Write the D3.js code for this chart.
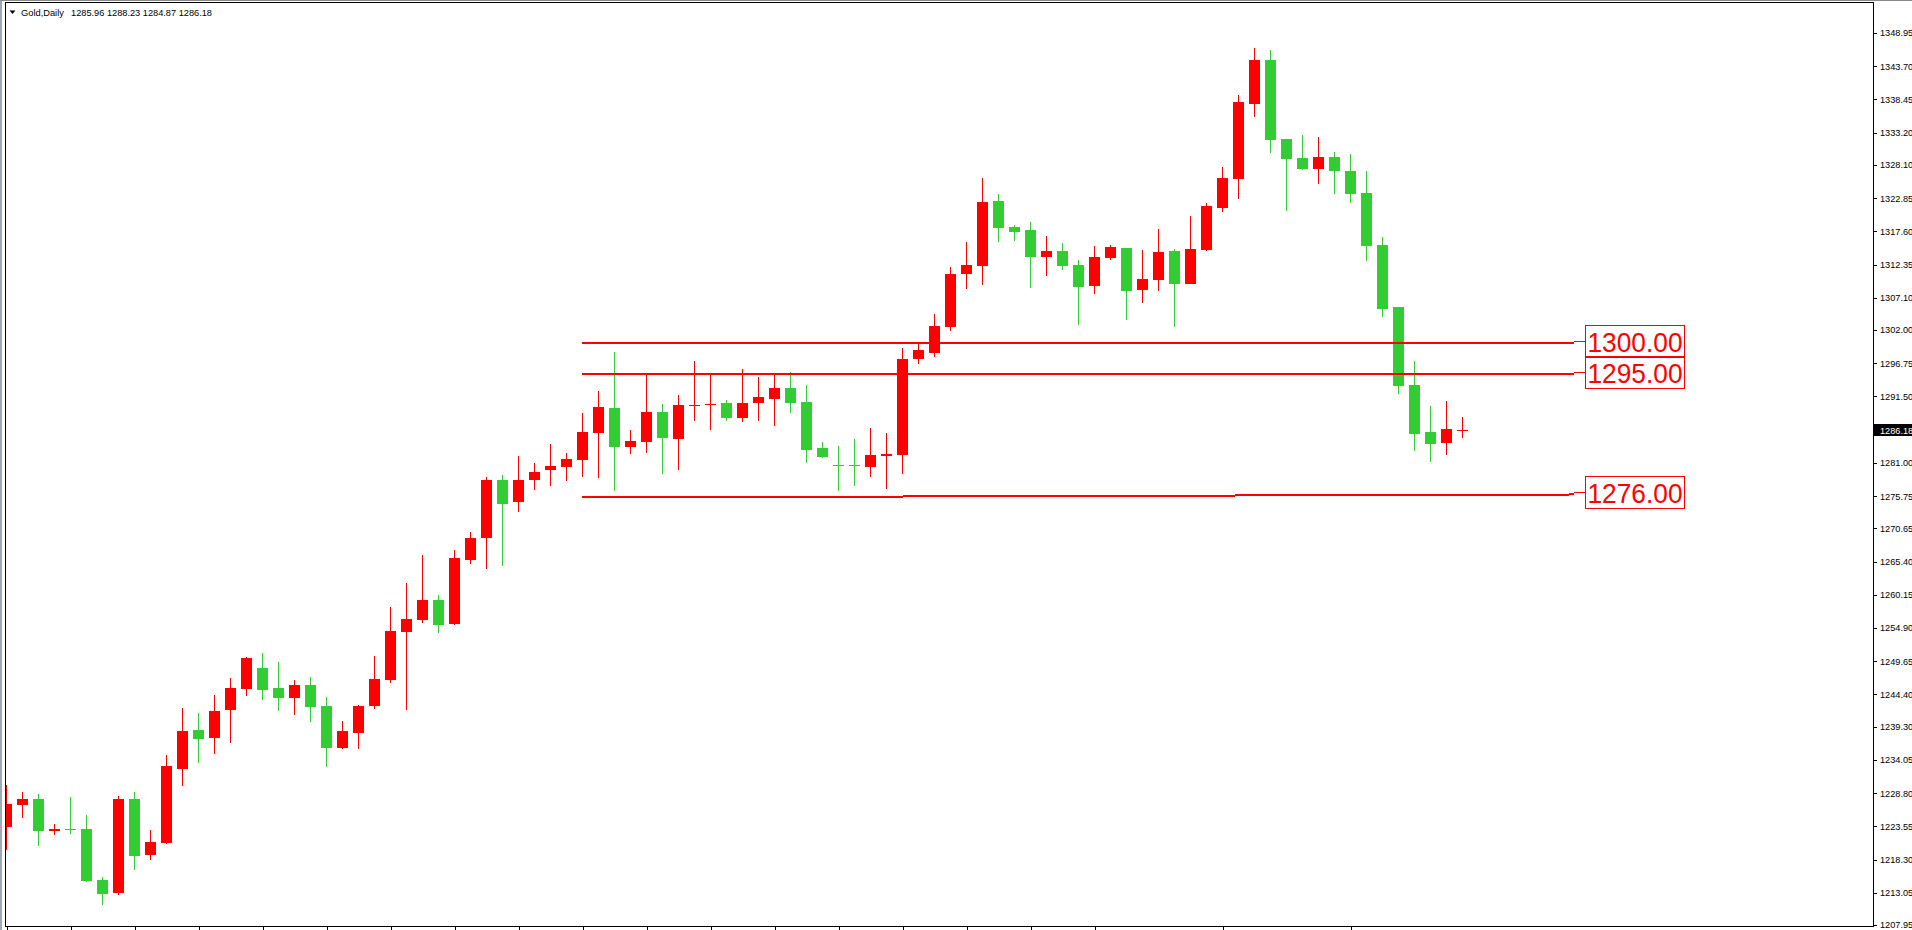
<!DOCTYPE html>
<html><head><meta charset="utf-8">
<script src="https://cdn.jsdelivr.net/npm/d3@7"></script>
<style>
html,body{margin:0;padding:0;background:#fff;overflow:hidden;}
svg{display:block;}
</style></head><body>
<svg id="chart" width="1912" height="930"></svg>
<script>
const symbolName = "Gold,Daily";
const opens = [1223.49,1226.92,1227.86,1222.81,1223.12,1223.12,1215.06,1213.05,1227.86,1219.06,
1220.96,1232.65,1238.77,1237.56,1241.98,1245.25,1248.57,1245.41,1243.83,1245.89,
1242.57,1235.93,1238.30,1242.57,1246.68,1254.31,1256.16,1259.32,1255.53,1265.65,
1269.12,1278.29,1274.81,1278.29,1279.87,1280.35,1281.45,1285.72,1289.67,1283.51,
1284.30,1289.04,1284.77,1289.99,1290.15,1290.46,1288.09,1290.46,1291.10,1292.83,
1290.62,1283.35,1280.62,1280.62,1280.35,1282.09,1282.24,1297.42,1298.42,1302.52,
1310.90,1312.17,1322.40,1318.29,1317.81,1313.59,1314.49,1312.28,1309.01,1313.43,
1314.97,1308.37,1309.96,1314.49,1309.32,1314.70,1321.34,1325.92,1337.78,1344.69,
1332.20,1329.19,1327.50,1329.35,1327.14,1323.66,1315.44,1305.64,1293.31,1285.88,
1284.19,1285.96];
const highs = [1230.08,1228.97,1228.65,1223.91,1228.18,1225.33,1215.53,1228.34,1228.97,1222.96,
1234.82,1242.25,1241.46,1244.30,1246.99,1250.31,1250.94,1249.52,1246.68,1247.15,
1243.99,1240.19,1242.72,1250.47,1258.22,1262.01,1266.44,1260.11,1267.23,1270.07,
1278.77,1279.08,1282.09,1280.98,1283.98,1282.56,1288.88,1292.36,1298.53,1286.20,
1295.05,1290.31,1291.73,1297.10,1295.05,1290.94,1295.84,1294.57,1295.05,1295.36,
1293.31,1284.30,1283.67,1284.77,1286.51,1285.72,1299.16,1300.11,1304.53,1311.96,
1315.91,1326.03,1323.50,1318.60,1319.08,1316.86,1315.76,1313.07,1315.28,1315.44,
1314.97,1314.65,1317.97,1314.81,1320.02,1322.08,1327.77,1339.15,1346.58,1346.27,
1332.20,1332.83,1332.51,1330.14,1329.83,1327.14,1316.71,1305.64,1297.10,1289.99,
1290.78,1288.23];
const lows = [1219.80,1224.91,1220.48,1222.17,1222.38,1214.79,1211.15,1212.74,1216.69,1218.27,
1220.80,1229.97,1233.60,1235.03,1236.77,1244.15,1243.51,1241.78,1241.14,1240.04,
1232.92,1235.77,1235.77,1242.09,1246.20,1241.93,1255.73,1254.15,1255.37,1265.01,
1264.22,1264.70,1273.23,1276.71,1277.34,1278.13,1278.77,1278.61,1276.55,1282.40,
1282.56,1279.24,1279.87,1287.62,1286.20,1287.62,1287.46,1287.62,1286.83,1288.88,
1280.98,1281.77,1276.55,1277.34,1278.77,1276.87,1279.24,1296.63,1297.78,1301.89,
1308.53,1309.16,1315.96,1316.12,1308.69,1310.59,1311.54,1302.84,1307.74,1313.12,
1303.63,1306.32,1308.22,1302.52,1309.32,1314.54,1320.70,1322.71,1335.72,1330.03,
1320.86,1327.34,1325.13,1323.55,1322.13,1312.96,1304.11,1291.93,1282.92,1281.18,
1282.29,1284.87];
const closes = [1227.07,1227.86,1222.85,1223.12,1222.96,1214.90,1212.89,1227.86,1218.90,1221.07,
1233.08,1238.61,1237.40,1241.78,1245.41,1250.15,1245.09,1243.83,1245.89,1242.41,
1235.93,1238.61,1242.57,1246.83,1254.42,1256.32,1259.32,1255.37,1265.96,1269.12,
1278.29,1274.50,1278.29,1279.56,1280.50,1281.61,1285.88,1289.83,1283.51,1284.46,
1289.04,1284.93,1290.15,1290.15,1290.31,1288.09,1290.46,1291.41,1292.83,1290.46,
1283.03,1281.93,1280.50,1280.50,1282.24,1282.40,1297.42,1298.84,1302.64,1310.86,
1312.28,1322.24,1318.17,1317.54,1313.59,1314.49,1312.17,1308.85,1313.54,1315.12,
1308.22,1310.07,1314.33,1309.32,1314.81,1321.61,1326.03,1338.05,1344.69,1332.09,
1329.08,1327.50,1329.35,1327.19,1323.55,1315.33,1305.37,1293.20,1285.61,1284.03,
1286.35,1286.18];
const yTickLabels = [1348.95,1343.70,1338.45,1333.20,1328.10,1322.85,1317.60,1312.35,1307.10,1302.00,
1296.75,1291.50,1281.00,1275.75,1270.65,1265.40,1260.15,1254.90,1249.65,1244.40,
1239.30,1234.05,1228.80,1223.55,1218.30,1213.05,1207.95];
const xTickIndex = [0,4,8,12,16,20,24,28,32,36,40,44,48,52,56,60,64,68,76,84];
const levelValues = [1300.00, 1295.00, 1276.00];
const levelStartValues = [1300.00, 1295.00, 1275.53];
const levelFromIndex = 36, levelToIndex = 98;

(function(){
const UP = "#ff0000", DOWN = "#32cd32";
const svg = d3.select("#chart");
const W = 1912, H = 930;
const padL = 5, padT = 2, axisX = 1873, padB = 926;

const x = d3.scaleLinear().domain([0, 98]).range([6, 6 + 16 * 98]);
const y = d3.scaleLinear().domain([1207.95, 1348.95]).range([925, 33]);

svg.append("rect").attr("width", W).attr("height", H).attr("fill", "#fff");
svg.append("rect").attr("x",0).attr("y",0).attr("width",2).attr("height",H).attr("fill","#9ea9ba");
svg.append("rect").attr("x",0).attr("y",0).attr("width",W).attr("height",1).attr("fill","#8a8a8a");

svg.append("defs").append("clipPath").attr("id","plot")
  .append("rect").attr("x", padL+1).attr("y", padT+1).attr("width", axisX-padL-1).attr("height", padB-padT-1);

const data = opens.map((o,i)=>({i, o, h:highs[i], l:lows[i], c:closes[i]}));
const g = svg.append("g").attr("clip-path","url(#plot)").attr("shape-rendering","crispEdges");

const cg = g.selectAll("g.candle").data(data).join("g").attr("class","candle")
  .attr("fill", d => d.c > d.o ? UP : DOWN);
cg.append("rect")
  .attr("x", d => Math.round(x(d.i)))
  .attr("y", d => Math.round(y(d.h)))
  .attr("width", 1)
  .attr("height", d => Math.max(1, Math.round(y(d.l)) - Math.round(y(d.h))));
cg.append("rect")
  .attr("x", d => Math.round(x(d.i)) - 5)
  .attr("y", d => Math.round(y(Math.max(d.o,d.c))))
  .attr("width", 11)
  .attr("height", d => Math.max(1, Math.round(y(Math.min(d.o,d.c))) - Math.round(y(Math.max(d.o,d.c)))));

const lv = levelValues.map((v,k)=>({v, s:levelStartValues[k]}));
g.selectAll("line.level").data(lv).join("line").attr("class","level")
  .attr("x1", x(levelFromIndex)).attr("x2", x(levelToIndex))
  .attr("y1", d => y(d.s)).attr("y2", d => y(d.v))
  .attr("stroke", UP).attr("stroke-width", 2);
const boxX = x(levelToIndex) + 11, boxW = 99, boxH = 32;
g.selectAll("line.conn").data(lv).join("line").attr("class","conn")
  .attr("x1", x(levelToIndex)).attr("x2", boxX)
  .attr("y1", d => Math.round(y(d.v)) - 1.5).attr("y2", d => Math.round(y(d.v)) - 1.5)
  .attr("stroke", UP).attr("stroke-width", 1);
g.selectAll("rect.lbox").data(lv).join("rect").attr("class","lbox")
  .attr("x", boxX + 0.5).attr("y", d => Math.round(y(d.v)) - 17.5)
  .attr("width", boxW).attr("height", boxH)
  .attr("fill", "none").attr("stroke", UP).attr("stroke-width", 1);
svg.selectAll("text.ltxt").data(lv).join("text").attr("class","ltxt")
  .attr("x", boxX + 2.5).attr("y", d => Math.round(y(d.v)) + 9)
  .attr("font-family", "'Liberation Sans', Arial, sans-serif").attr("font-size", 27.5)
  .attr("fill", UP).attr("textLength", 95).attr("lengthAdjust", "spacingAndGlyphs")
  .text(d => d3.format(".2f")(d.v));

const fr = svg.append("g").attr("shape-rendering","crispEdges").attr("stroke","#000").attr("stroke-width",1);
fr.append("line").attr("x1", padL+0.5).attr("x2", padL+0.5).attr("y1", padT).attr("y2", padB+1);
fr.append("line").attr("x1", padL).attr("x2", axisX+1).attr("y1", padT+0.5).attr("y2", padT+0.5);
fr.append("line").attr("x1", padL).attr("x2", axisX+1).attr("y1", padB+0.5).attr("y2", padB+0.5);
fr.append("line").attr("x1", axisX+0.5).attr("x2", axisX+0.5).attr("y1", padT).attr("y2", padB+1);

const xa = svg.append("g").attr("transform", `translate(0.5,${padB})`)
  .call(d3.axisBottom(x).tickValues(xTickIndex).tickSize(5).tickFormat(""));
xa.select(".domain").remove();
xa.selectAll("line").attr("stroke","#000").attr("shape-rendering","crispEdges");

const ya = svg.append("g").attr("transform", `translate(${axisX},0)`)
  .call(d3.axisRight(y).tickValues(yTickLabels).tickSize(4).tickPadding(3).tickFormat(d3.format(".2f")));
ya.select(".domain").remove();
ya.selectAll("line").attr("stroke","#000").attr("shape-rendering","crispEdges");
ya.selectAll("text").attr("font-family","'Liberation Sans', Arial, sans-serif").attr("font-size", 9.2).attr("fill","#000");

const last = data[data.length-1];
const cy = Math.round(y(last.c));
svg.append("rect").attr("x", axisX).attr("y", cy - 6).attr("width", W - axisX).attr("height", 12).attr("fill","#000");
svg.append("text").attr("x", axisX + 7).attr("y", cy + 3.5)
  .attr("font-family","'Liberation Sans', Arial, sans-serif").attr("font-size", 9.2).attr("fill","#fff")
  .text(d3.format(".2f")(last.c));

svg.append("path").attr("d","M9.5,10.5 L15.5,10.5 L12.5,14 Z").attr("fill","#000");
svg.append("text").attr("x", 21).attr("y", 15.5)
  .attr("font-family","'Liberation Sans', Arial, sans-serif").attr("font-size", 9.3).attr("fill","#000")
  .text(symbolName);
svg.append("text").attr("x", 71).attr("y", 15.5)
  .attr("font-family","'Liberation Sans', Arial, sans-serif").attr("font-size", 9.3).attr("fill","#000")
  .attr("textLength", 141).attr("lengthAdjust","spacingAndGlyphs")
  .text([last.o, last.h, last.l, last.c].map(d3.format(".2f")).join(" "));
})();
</script>
</body></html>
